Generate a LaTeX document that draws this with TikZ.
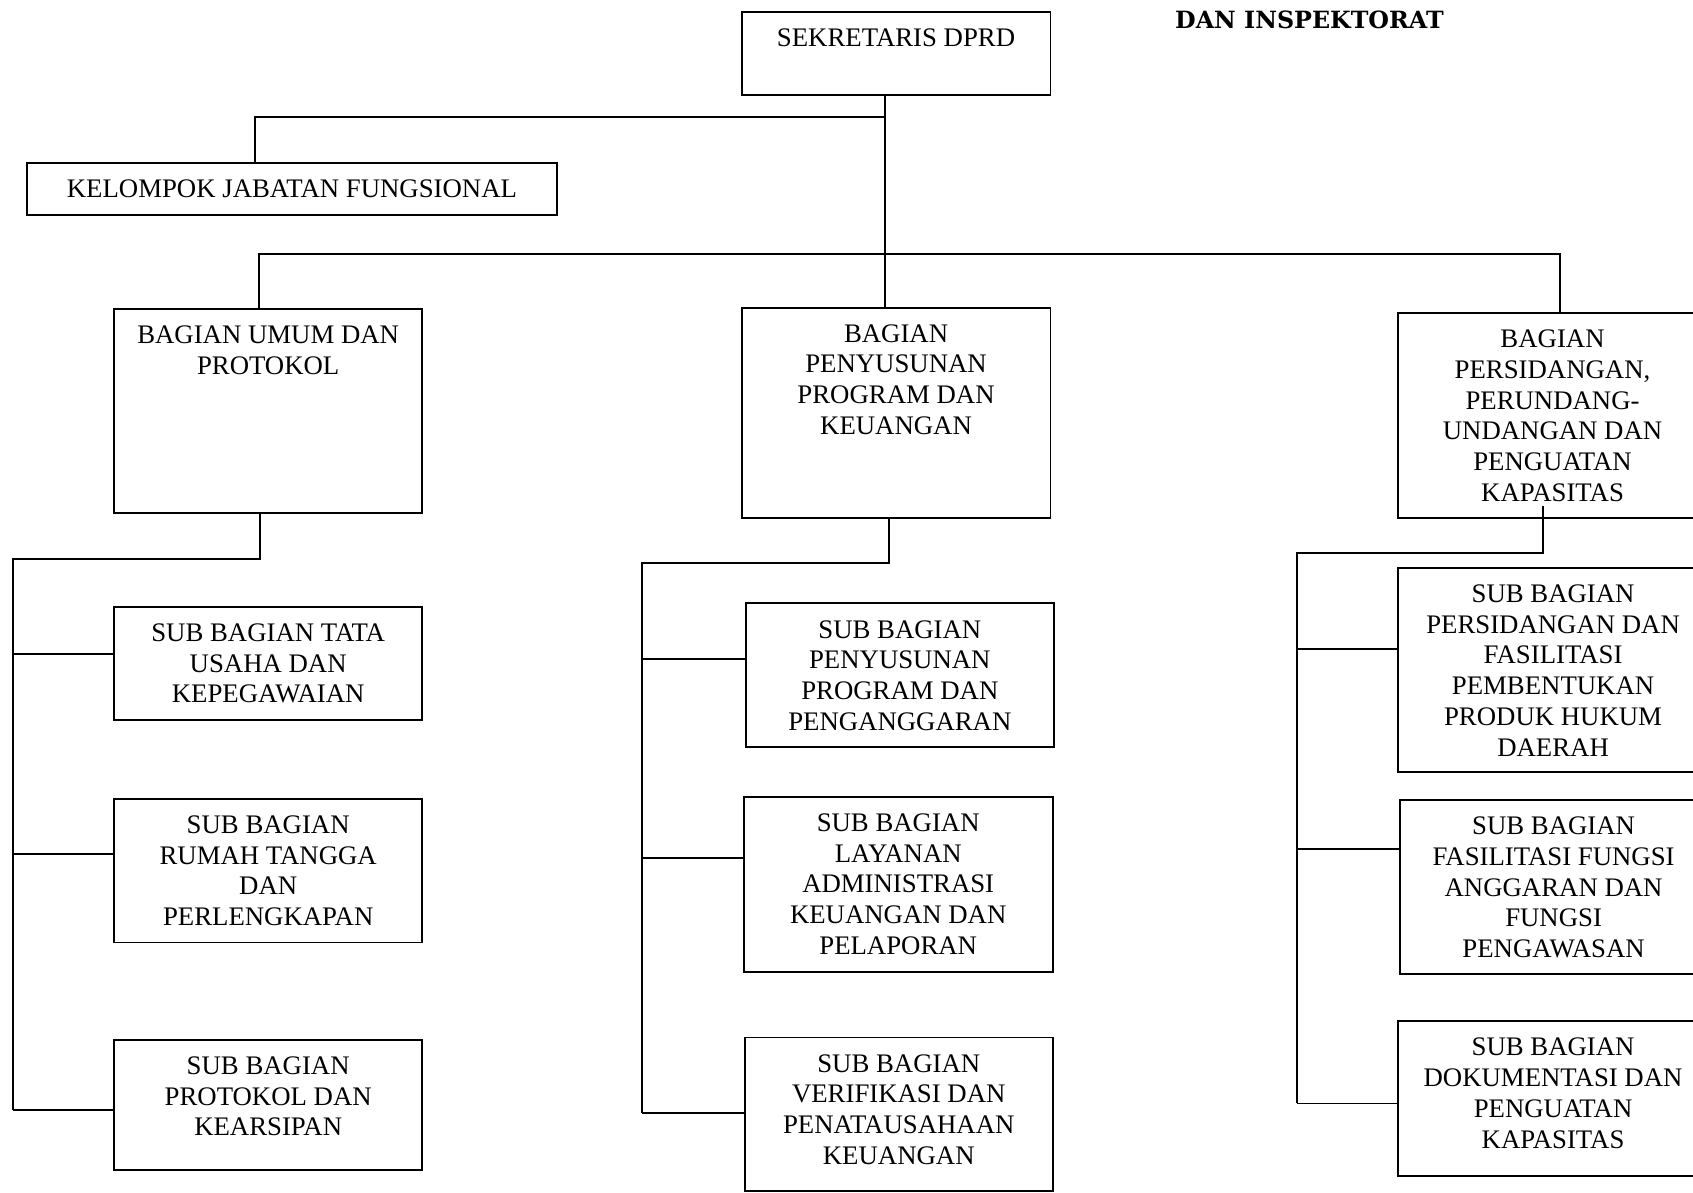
\documentclass[tikz,border=0pt]{standalone}
\usepackage{fontspec}
\setmainfont{Liberation Serif}
\newfontfamily\titlefont{DejaVu Serif}
\newdimen\upx \upx=0.5pt
\newcommand{\boxtext}[3]{\parbox[c][#2\upx][t]{#1\upx}{\centering\rule{0pt}{16pt}#3\par}}
\tikzset{
  box/.style={draw, line width=0.9pt, inner sep=0pt, anchor=north west, font=\fontsize{12.4}{14.25}\selectfont},
  conn/.style={line width=0.9pt}
}
\begin{document}
\begin{tikzpicture}[x=0.5pt, y=-0.5pt]
\useasboundingbox (0,0) rectangle (1568,1104);
\clip (0,0) rectangle (1568,1104);
\fill[white] (0,0) rectangle (1568,1104);

% boxes
\node[box] (sek) at (686,10) {\boxtext{286}{77}{SEKRETARIS DPRD}};
\node[box] (kjf) at (24,150) {\boxtext{491}{48}{KELOMPOK JABATAN FUNGSIONAL}};
\node[box] (bu) at (105,285) {\boxtext{285}{189}{BAGIAN UMUM DAN\\PROTOKOL}};
\node[box] (bp) at (686,284) {\boxtext{286}{195}{BAGIAN\\PENYUSUNAN\\PROGRAM DAN\\KEUANGAN}};
\node[box] (bs) at (1294,289) {\boxtext{286}{190}{BAGIAN\\PERSIDANGAN,\\PERUNDANG-\\UNDANGAN DAN\\PENGUATAN\\KAPASITAS}};

\node[box] (u1) at (105,561) {\boxtext{285}{105}{SUB BAGIAN TATA\\USAHA DAN\\KEPEGAWAIAN}};
\node[box] (u2) at (105,739) {\boxtext{285}{133}{SUB BAGIAN\\RUMAH TANGGA\\DAN\\PERLENGKAPAN}};
\node[box] (u3) at (105,962) {\boxtext{285}{121}{SUB BAGIAN\\PROTOKOL DAN\\KEARSIPAN}};

\node[box] (p1) at (690,558) {\boxtext{285}{133}{SUB BAGIAN\\PENYUSUNAN\\PROGRAM DAN\\PENGANGGARAN}};
\node[box] (p2) at (688,737) {\boxtext{286}{162}{SUB BAGIAN\\LAYANAN\\ADMINISTRASI\\KEUANGAN DAN\\PELAPORAN}};
\node[box] (p3) at (689,960) {\boxtext{285}{142}{SUB BAGIAN\\VERIFIKASI DAN\\PENATAUSAHAAN\\KEUANGAN}};

\node[box] (s1) at (1294,525) {\boxtext{287}{189}{SUB BAGIAN\\PERSIDANGAN DAN\\FASILITASI\\PEMBENTUKAN\\PRODUK HUKUM\\DAERAH}};
\node[box] (s2) at (1296,740) {\boxtext{284}{161}{SUB BAGIAN\\FASILITASI FUNGSI\\ANGGARAN DAN\\FUNGSI\\PENGAWASAN}};
\node[box] (s3) at (1294,945) {\boxtext{287}{143}{SUB BAGIAN\\DOKUMENTASI DAN\\PENGUATAN\\KAPASITAS}};

\node[font=\titlefont\bfseries\fontsize{11}{13}\selectfont, anchor=base west, inner sep=0pt] (title) at (1088,26) {DAN INSPEKTORAT};

% junction coordinates
\coordinate (j0) at (820,108);
\coordinate (k0) at (236,108);
\coordinate (bL) at (240,235);
\coordinate (bM) at (820,235);
\coordinate (bR) at (1445,235);

\coordinate (lu) at (241,518);
\coordinate (lx) at (12,518);
\coordinate (l1) at (12,606);
\coordinate (l2) at (12,791);
\coordinate (l3) at (12,1028);

\coordinate (mu) at (823,521);
\coordinate (mx) at (595,521);
\coordinate (m1) at (595,610);
\coordinate (m2) at (595,795);
\coordinate (m3) at (595,1031);

\coordinate (rt) at (1429,469);
\coordinate (ru) at (1429,512);
\coordinate (rx) at (1201,512);
\coordinate (r1) at (1201,601);
\coordinate (r2) at (1201,786);
\coordinate (r3) at (1201,1022);

% connectors
\draw[conn] (sek.south -| j0) -- (bp.north -| j0);
\draw[conn] (j0) -- (k0) -- (k0 |- kjf.north);
\draw[conn] (bL |- bu.north) -- (bL) -- (bR) -- (bR |- bs.north);

\draw[conn] (lu |- bu.south) -- (lu) -- (lx) -- (l3);
\draw[conn] (l1) -- (l1 -| u1.west);
\draw[conn] (l2) -- (l2 -| u2.west);
\draw[conn] (l3) -- (l3 -| u3.west);

\draw[conn] (mu |- bp.south) -- (mu) -- (mx) -- (m3);
\draw[conn] (m1) -- (m1 -| p1.west);
\draw[conn] (m2) -- (m2 -| p2.west);
\draw[conn] (m3) -- (m3 -| p3.west);

\draw[conn] (rt) -- (ru) -- (rx) -- (r3);
\draw[conn] (r1) -- (r1 -| s1.west);
\draw[conn] (r2) -- (r2 -| s2.west);
\draw[conn] (r3) -- (r3 -| s3.west);
\end{tikzpicture}
\end{document}
